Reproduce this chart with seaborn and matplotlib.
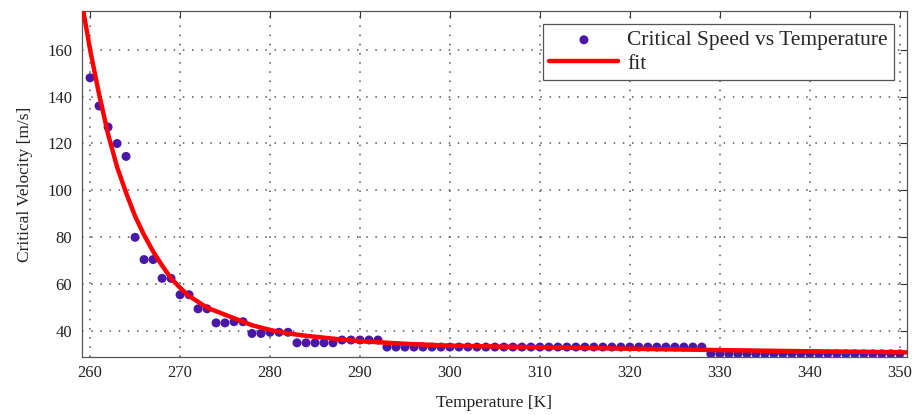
import matplotlib
matplotlib.use("Agg")
import matplotlib.pyplot as plt
import numpy as np
import seaborn as sns

# measured critical speed, one point per kelvin
temperature = list(range(260, 351))
speed = [148, 136, 127, 120, 114.5, 80, 70.5, 70.5, 62.5, 62.5,
         55.5, 55.5, 49.5, 49.5, 43.5, 43.5, 44, 44, 39, 39,
         39.5, 39.5, 39.5, 35, 35, 35, 35, 35, 36.2, 36.2,
         36.2, 36.2, 36.2, 33.2, 33.2, 33.2, 33.2, 33.2, 33.2, 33.2,
         33.2, 33.2, 33.2, 33.2, 33.2, 33.2, 33.2, 33.2, 33.2, 33.2,
         33.2, 33.2, 33.2, 33.2, 33.2, 33.2, 33.2, 33.2, 33.2, 33.2,
         33.2, 33.2, 33.2, 33.2, 33.2, 33.2, 33.2, 33.2, 33.2, 30.3,
         30.3, 30.3, 30.3, 30.3, 30.3, 30.3, 30.3, 30.3, 30.3, 30.3,
         30.3, 30.3, 30.3, 30.3, 30.3, 30.3, 30.3, 30.3, 30.3, 30.3,
         30.3]

# fitted curve
fit_t = [259, 260, 261, 262, 263, 264, 265, 266, 267, 268, 269, 270, 271,
         272, 273, 274, 275, 276, 277, 278, 279, 280, 282, 284, 286, 288,
         290, 295, 300, 310, 320, 330, 340, 350, 351]
fit_v = [182, 160, 141, 124, 110, 99, 89, 81, 74, 68, 62.5, 58.5, 55,
         52.5, 50, 48.5, 47, 45.5, 44, 42.5, 41.5, 40.5, 39, 38, 37.2, 36.4,
         35.7, 34.6, 33.8, 33.1, 32.5, 31.9, 31.4, 31, 30.9]

sns.set_theme(style="white")
plt.rcParams["font.family"] = ["Liberation Serif", "DejaVu Serif"]

fig = plt.figure(figsize=(9.18, 4.15), dpi=100)
ax = fig.add_axes([0.0893, 0.140, 0.8987, 0.8335])

sns.scatterplot(x=temperature, y=speed, ax=ax, color="#4a18a8", s=42,
                edgecolor="none", label="Critical Speed vs Temperature", zorder=2)
sns.lineplot(x=fit_t, y=fit_v, ax=ax, color="#ff0000", linewidth=3.2,
             label="fit", zorder=3)

ax.set_xlim(259.1, 350.8)
ax.set_ylim(29, 176.5)
ax.set_xticks(np.arange(260, 351, 10))
ax.set_yticks(np.arange(40, 161, 20))
ax.grid(True, linestyle=(0, (1, 5)), color="#555555", linewidth=1.1)
ax.tick_params(direction="in", top=True, right=True, length=5, width=0.8,
               labelsize=12, colors="#333333", labelcolor="#222222")
ax.tick_params(axis="x", pad=6)
ax.tick_params(axis="y", pad=7)
for sp in ax.spines.values():
    sp.set_color("#555555")
    sp.set_linewidth(0.9)

ax.set_xlabel("Temperature [K]", fontsize=12.5, color="#222222", labelpad=10)
ax.set_ylabel("Critical Velocity [m/s]", fontsize=12.5, color="#222222", labelpad=10)

leg = ax.legend(loc="upper right", fontsize=15.5, fancybox=False, framealpha=1,
                edgecolor="#555555", handlelength=3.2, borderaxespad=0.6,
                borderpad=0.3, labelspacing=0.15, handletextpad=0.4)
leg.get_frame().set_linewidth(0.9)

fig.savefig("out.png", dpi=100)
